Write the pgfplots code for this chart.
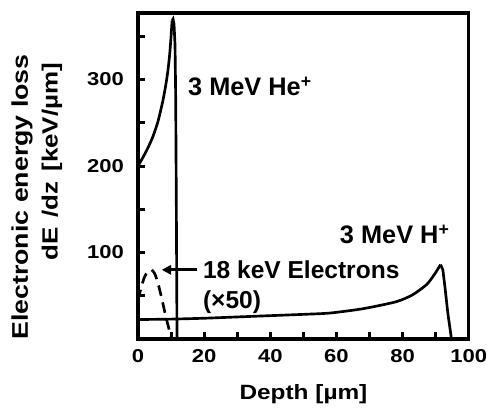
\documentclass[border=0pt]{standalone}
\usepackage{pgfplots}
\pgfplotsset{compat=1.18}
\usepackage{fontspec}
\setmainfont{Liberation Sans}
\newfontfamily\wfont[FakeStretch=1.18]{Liberation Sans}
\usetikzlibrary{arrows.meta}
\begin{document}
\begin{tikzpicture}
\path[use as bounding box] (-103.5pt,-51.75pt) rectangle (261.75pt,254.25pt);
\begin{axis}[
  at={(0,0)}, anchor=south west,
  scale only axis,
  width=248pt, height=244.5pt,
  xmin=0, xmax=100, ymin=0, ymax=377,
  axis line style={line width=2.5pt},
  tick pos=left, tick align=inside,
  major tick length=5.5pt,
  tick style={line width=2.2pt, black},
  xtick={0,10,...,100},
  xticklabels={0,,20,,40,,60,,80,,100},
  ytick={50,100,...,350},
  yticklabels={,100,,200,,300,},
  /pgf/number format/assume math mode=true,
  ticklabel style={font=\fontsize{14}{17}\wfont\bfseries},
  yticklabel style={xshift=-7pt},
  xticklabel style={yshift=-4pt},
  clip=false,
]
\addplot[line width=2pt, smooth, tension=0.4] coordinates {
(0,200) (1.5,210) (3,221) (4.5,234) (6,251) (7.5,275) (8.5,296) (9.1,312) (9.6,330) (10,350) (10.3,368)};
\addplot[line width=2pt] coordinates {
(10.3,368) (10.6,370) (10.9,364) (11.2,340) (11.4,280) (11.6,150) (11.8,0)};
\addplot[line width=2pt, smooth, tension=0.4] coordinates {
(0,22.5) (10,23) (20,24) (30,25.5) (40,27) (50,28.5) (58,30) (68,35) (78,43) (83,51) (87.3,63) (89.7,75) (91.5,86)};
\addplot[line width=2pt] coordinates {
(91.5,86) (92.2,80) (92.8,61) (93.7,30) (94.8,0)};
\addplot[line width=2pt, dash pattern=on 8pt off 5pt, smooth] coordinates {
(0,45) (1,60) (2,72) (3,78) (4,80) (5,76) (6,65) (7,50) (8,33) (9,17) (10,3)};
\draw[line width=2pt, -{Triangle[length=7pt,width=7pt]}] (axis cs:17.8,80) -- (axis cs:7.2,80);
\node[anchor=west, font=\fontsize{19}{22}\selectfont\bfseries, inner sep=0pt] at (axis cs:15.1,292) {3 MeV He\textsuperscript{+}};
\node[anchor=west, font=\fontsize{19}{22}\selectfont\bfseries, inner sep=0pt] at (axis cs:61,121) {3 MeV H\textsuperscript{+}};
\node[anchor=west, font=\fontsize{18.4}{21}\selectfont\bfseries, inner sep=0pt] at (axis cs:19.6,80) {18 keV Electrons};
\node[anchor=west, font=\fontsize{18.4}{21}\selectfont\bfseries, inner sep=0pt] at (axis cs:19.6,43) {(×50)};
\end{axis}
\node[font=\fontsize{15.5}{19}\wfont\bfseries] at (124.1pt,-41.5pt) {Depth [µm]};
\node[rotate=90, font=\fontsize{17}{20}\wfont\bfseries] at (-87pt,106.5pt) {Electronic energy loss};
\node[rotate=90, font=\fontsize{16.5}{20}\wfont\bfseries] at (-64.5pt,133pt) {dE\hspace{0.45em}/dz\hspace{0.45em}[keV/µm]};
\end{tikzpicture}
\end{document}
